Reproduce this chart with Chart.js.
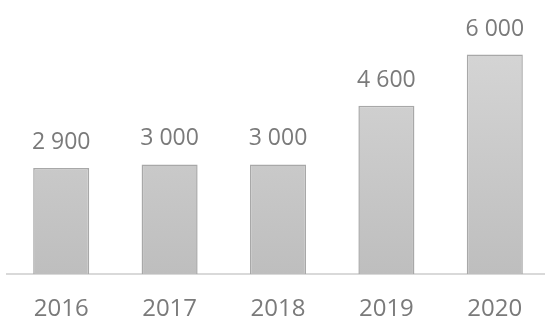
<!DOCTYPE html>
<html>
<head>
<meta charset="utf-8">
<script src="https://cdn.jsdelivr.net/npm/chart.js@4"></script>
<style>
  html, body { margin: 0; padding: 0; background: #fff; overflow: hidden; }
  #chart { display: block; }
</style>
</head>
<body>
<canvas id="chart" width="549" height="318"></canvas>
<script>
  // chart data
  const years = ['2016', '2017', '2018', '2019', '2020'];
  const values = [2900, 3000, 3000, 4600, 6000];

  const FONT = '"Open Sans", "DejaVu Sans", sans-serif';
  const TEXT_GREY = '#7a7a7a';

  function formatThousands(v) {
    return String(v).replace(/\B(?=(\d{3})+(?!\d))/g, ' ');
  }

  // draws the value above each bar
  const valueLabels = {
    id: 'valueLabels',
    afterDatasetsDraw(chart) {
      const ctx = chart.ctx;
      const meta = chart.getDatasetMeta(0);
      ctx.save();
      ctx.font = '23px ' + FONT;
      ctx.fillStyle = TEXT_GREY;
      ctx.textAlign = 'center';
      ctx.textBaseline = 'alphabetic';
      meta.data.forEach((bar, i) => {
        ctx.fillText(formatThousands(values[i]), bar.x, bar.y - 19);
      });
      ctx.restore();
    },
  };

  function barGradient(context) {
    const area = context.chart.chartArea;
    if (!area) return '#c8c8c8';
    const g = context.chart.ctx.createLinearGradient(0, area.top, 0, area.bottom);
    g.addColorStop(0, '#d8d8d8');
    g.addColorStop(1, '#bebebe');
    return g;
  }

  new Chart(document.getElementById('chart'), {
    type: 'bar',
    data: {
      labels: years,
      datasets: [{
        data: values,
        backgroundColor: barGradient,
        borderColor: '#a8a8a8',
        borderWidth: 1.5,
        categoryPercentage: 1,
        barPercentage: 0.517,
      }],
    },
    options: {
      responsive: false,
      animation: false,
      layout: { padding: { left: 7, right: 0, top: 18, bottom: -27 } },
      plugins: { legend: { display: false }, tooltip: { enabled: false } },
      scales: {
        x: {
          grid: { display: false, drawTicks: false },
          border: { display: true, color: '#d9d9d9', width: 2 },
          ticks: { color: TEXT_GREY, font: { family: FONT, size: 24 }, padding: 21 },
        },
        y: { display: false, min: 0, max: 7000 },
      },
    },
    plugins: [valueLabels],
  });
</script>
</body>
</html>
